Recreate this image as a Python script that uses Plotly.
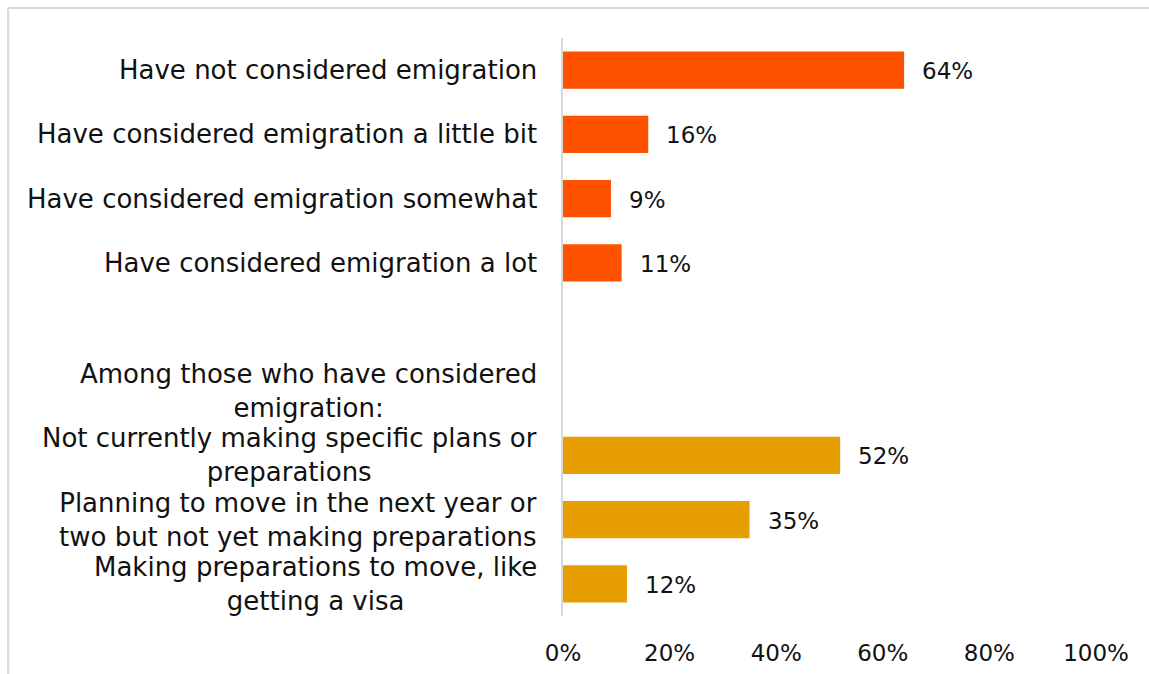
import plotly.graph_objects as go

# Survey responses on emigration (percent of respondents)
slot_labels = [
    "Have not considered emigration",
    "Have considered emigration a little bit",
    "Have considered emigration somewhat",
    "Have considered emigration a lot",
    "",
    "Among those who have considered<br>emigration:",
    "Not currently making specific plans or<br>preparations",
    "Planning to move in the next year or<br>two but not yet making preparations",
    "Making preparations to move, like<br>getting a visa",
]
considered_labels = slot_labels[0:4]
considered_values = [64, 16, 9, 11]
plans_labels = slot_labels[6:9]
plans_values = [52, 35, 12]

x_ticks = [0, 20, 40, 60, 80, 100]
x_tick_text = ["0%", "20%", "40%", "60%", "80%", "100%"]

ORANGE = "#FF5200"
GOLD = "#E69E00"
FONT = "DejaVu Sans"
TEXT = "#111111"
SIZE = 23
LABEL_SIZE = 26


def slot(label):
    return slot_labels.index(label)


fig = go.Figure()
for labels, values, color in [
    (considered_labels, considered_values, ORANGE),
    (plans_labels, plans_values, GOLD),
]:
    fig.add_trace(go.Bar(
        x=values,
        y=[slot(l) for l in labels],
        orientation="h",
        marker=dict(color=color, line=dict(width=0)),
        width=0.58,
        hoverinfo="skip",
    ))
    # value labels to the right of each bar
    for l, v in zip(labels, values):
        fig.add_annotation(
            x=v, y=slot(l), xref="x", yref="y",
            text=f"{v}%", showarrow=False,
            xanchor="left", xshift=16, yshift=-1,
            font=dict(family=FONT, size=SIZE, color=TEXT),
        )

# category labels, centred line by line and right-aligned to the axis
for i, lab in enumerate(slot_labels):
    if not lab:
        continue
    fig.add_annotation(
        x=0, y=i, xref="paper", yref="y",
        text=lab, showarrow=False, align="center",
        xanchor="right", xshift=-24,
        font=dict(family=FONT, size=LABEL_SIZE, color=TEXT),
    )

# thin frame along the top and left edges
frame = dict(color="#d9d9d9", width=2)
fig.add_shape(type="line", xref="paper", yref="paper",
              x0=-1.041, x1=1.2, y0=1.052, y1=1.052, line=frame)
fig.add_shape(type="line", xref="paper", yref="paper",
              x0=-1.041, x1=-1.041, y0=1.052, y1=-0.2, line=frame)

fig.update_layout(
    width=1149, height=674,
    margin=dict(l=563, r=53, t=38, b=58, autoexpand=False),
    paper_bgcolor="white", plot_bgcolor="white",
    showlegend=False,
    font=dict(family=FONT, size=SIZE, color=TEXT),
    xaxis=dict(
        range=[0, 100], tickvals=x_ticks, ticktext=x_tick_text,
        showgrid=False, zeroline=False, showline=False,
        ticks="outside", ticklen=0, ticklabelstandoff=16,
        tickfont=dict(family=FONT, size=SIZE, color=TEXT),
        automargin=False, fixedrange=True,
    ),
    yaxis=dict(
        range=[len(slot_labels) - 0.5, -0.5],
        showticklabels=False, showgrid=False, zeroline=False,
        showline=True, linecolor="#d9d9d9", linewidth=2,
        ticks="", automargin=False, fixedrange=True,
    ),
)

fig.write_html("out.html")
